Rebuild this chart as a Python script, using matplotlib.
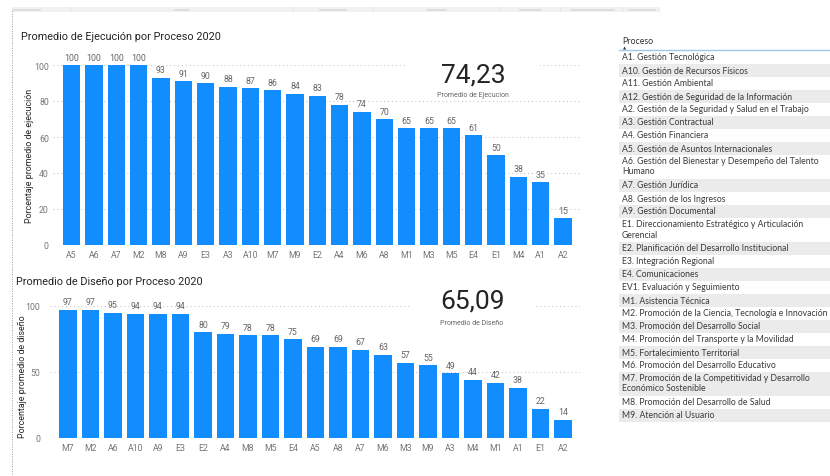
import matplotlib
matplotlib.use("Agg")
import matplotlib.pyplot as plt
from matplotlib.patches import Rectangle

# datos
cat_ejec = ["A5", "A6", "A7", "M2", "M8", "A9", "E3", "A3", "A10", "M7", "M9", "E2",
            "A4", "M6", "A8", "M1", "M3", "M5", "E4", "E1", "M4", "A1", "A2"]
val_ejec = [100, 100, 100, 100, 93, 91, 90, 88, 87, 86, 84, 83,
            78, 74, 70, 65, 65, 65, 61, 50, 38, 35, 15]

cat_dis = ["M7", "M2", "A6", "A10", "A9", "E3", "E2", "A4", "M8", "M5", "E4", "A5",
           "A8", "A7", "M6", "M3", "M9", "A3", "M4", "M1", "A1", "E1", "A2"]
val_dis = [97, 97, 95, 94, 94, 94, 80, 79, 78, 78, 75, 69,
           69, 67, 63, 57, 55, 49, 44, 42, 38, 22, 14]

prom_ejec = "74,23"
prom_dis = "65,09"

procesos = [
    "A1. Gestión Tecnológica",
    "A10. Gestión de Recursos Físicos",
    "A11. Gestión Ambiental",
    "A12. Gestión de Seguridad de la Información",
    "A2. Gestión de la Seguridad y Salud en el Trabajo",
    "A3. Gestión Contractual",
    "A4. Gestión Financiera",
    "A5. Gestión de Asuntos Internacionales",
    "A6. Gestión del Bienestar y Desempeño del Talento\nHumano",
    "A7. Gestión Jurídica",
    "A8. Gestión de los Ingresos",
    "A9. Gestión Documental",
    "E1. Direccionamiento Estratégico y Articulación\nGerencial",
    "E2. Planificación del Desarrollo Institucional",
    "E3. Integración Regional",
    "E4. Comunicaciones",
    "EV1. Evaluación y Seguimiento",
    "M1. Asistencia Técnica",
    "M2. Promoción de la Ciencia, Tecnología e Innovación",
    "M3. Promoción del Desarrollo Social",
    "M4. Promoción del Transporte y la Movilidad",
    "M5. Fortalecimiento Territorial",
    "M6. Promoción del Desarrollo Educativo",
    "M7. Promoción de la Competitividad y Desarrollo\nEconómico Sostenible",
    "M8. Promoción del Desarrollo de Salud",
    "M9. Atención al Usuario",
]

W, H = 830, 477
AZUL = "#118DFF"
plt.rcParams["font.family"] = ["Roboto", "DejaVu Sans"]

fig = plt.figure(figsize=(W / 100, H / 100), dpi=100)
fig.patch.set_facecolor("white")


def fx(x):
    return x / W


def fy(y):
    return 1 - y / H


def barras(x0, x1, y0, y1, cats, vals, ticks, ylabel, ypad, xlim):
    ax = fig.add_axes([fx(x0), fy(y1), (x1 - x0) / W, (y1 - y0) / H])
    pos = range(len(cats))
    bars = ax.bar(pos, vals, width=0.78, color=AZUL, zorder=2)
    for b, v in zip(bars, vals):
        ax.annotate(str(v), (b.get_x() + b.get_width() / 2, v), xytext=(0, 2.5),
                    textcoords="offset points", ha="center", va="bottom",
                    fontsize=6.3, color="#666666")
    ax.set_xlim(*xlim)
    ax.set_ylim(0, 100)
    ax.set_yticks(ticks)
    ax.set_xticks(list(pos))
    ax.set_xticklabels(cats)
    ax.tick_params(length=0, labelsize=6.3, labelcolor="#777777")
    ax.tick_params(axis="y", pad=ypad)
    ax.tick_params(axis="x", pad=3.5)
    ax.grid(axis="y", color="#c8c8c8", linestyle=(0, (1, 2.5)), linewidth=0.8)
    ax.set_axisbelow(True)
    for s in ax.spines.values():
        s.set_visible(False)
    ax.set_ylabel(ylabel, fontsize=6.4, color="#252423")
    return ax


# grafico 1
ax1 = barras(53, 580, 66, 246, cat_ejec, val_ejec, [0, 20, 40, 60, 80, 100],
             "Porcentaje promedio de ejecución", 3, (-0.83, 22.76))
ax1.yaxis.set_label_coords(-0.036, 0.5)
fig.text(fx(21), fy(37), "Promedio de Ejecución por Proceso 2020", fontsize=7.8,
         color="#252423", va="center")
fig.patches.append(Rectangle((fx(405), fy(100)), 135 / W, 45 / H, transform=fig.transFigure,
                             facecolor="white", edgecolor="none", zorder=1))
fig.text(fx(473), fy(75), prom_ejec, fontsize=19, color="#252423", ha="center",
         va="center", zorder=3)
fig.text(fx(473), fy(96), "Promedio de Ejecucion", fontsize=5, color="#666666",
         ha="center", va="center", zorder=3)

# grafico 2
ax2 = barras(50, 580, 307, 439, cat_dis, val_dis, [0, 50, 100],
             "Porcentaje promedio de diseño", 7, (-0.8, 22.76))
ax2.yaxis.set_label_coords(-0.043, 0.47)
fig.text(fx(16), fy(282), "Promedio de Diseño por Proceso 2020", fontsize=7.8,
         color="#252423", va="center")
fig.patches.append(Rectangle((fx(410), fy(345)), 125 / W, 55 / H, transform=fig.transFigure,
                             facecolor="white", edgecolor="none", zorder=1))
fig.text(fx(472), fy(302), prom_dis, fontsize=19, color="#252423", ha="center",
         va="center", zorder=3)
fig.text(fx(472), fy(324), "Promedio de Diseño", fontsize=5, color="#666666",
         ha="center", va="center", zorder=3)

# borde izquierdo y franja superior
fig.add_artist(plt.Line2D([fx(12), fx(12)], [fy(12), fy(477)], color="#999999",
                          linestyle=(0, (1, 1.5)), linewidth=0.7))
fig.patches.append(Rectangle((fx(12), fy(13)), 647 / W, 5 / H, transform=fig.transFigure,
                             facecolor="#f1f1f1", edgecolor="none"))
for xs in [70, 293, 373, 500, 560, 622, 659]:
    fig.add_artist(plt.Line2D([fx(xs), fx(xs)], [fy(13), fy(8)], color="#e4e4e4", linewidth=0.5))
for a, b in [(13, 40), (175, 189), (320, 346), (427, 446), (520, 541), (571, 614), (629, 655)]:
    fig.add_artist(plt.Line2D([fx(a), fx(b)], [fy(10.5), fy(10.5)], color="#c4c4c4",
                              linewidth=1.2, alpha=0.5))

# segmentador
fig.text(fx(622), fy(41), "Proceso", fontsize=6.3, color="#333333", va="center",
         family=["Lato", "DejaVu Sans"])
fig.text(fx(625), fy(48), "▲", fontsize=3, color="#333333", ha="center", va="center")
fig.add_artist(plt.Line2D([fx(619), fx(830)], [fy(51), fy(51)], color="#9cc8f2", linewidth=1))
top = 51.5
for i, p in enumerate(procesos):
    h = 24 if "\n" in p else 13
    if i % 2 == 1:
        fig.patches.append(Rectangle((fx(619), fy(top + h)), 211 / W, h / H,
                                     transform=fig.transFigure, facecolor="#ebebeb",
                                     edgecolor="none"))
    for k, linea in enumerate(p.split("\n")):
        fig.text(fx(622), fy(top + 6.5 + 10 * k), linea, fontsize=6.2, color="#3a3a3a",
                 va="center", family=["Lato", "DejaVu Sans"])
    top += h

fig.savefig("out.png", dpi=100)
